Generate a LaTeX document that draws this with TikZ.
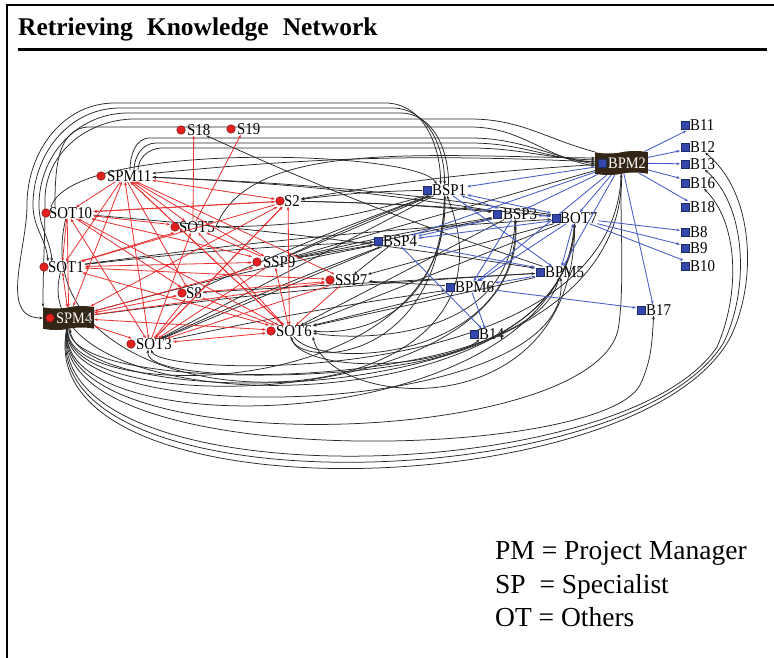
\documentclass[tikz,border=0pt]{standalone}
\usepackage{fontspec}
\usepackage{graphicx}
\setmainfont{Liberation Serif}
\usetikzlibrary{arrows.meta,shapes.symbols}
\definecolor{rline}{RGB}{232,48,48}
\definecolor{bline}{RGB}{70,92,200}
\definecolor{kline}{RGB}{40,40,40}
\definecolor{rdotc}{RGB}{226,32,32}
\definecolor{bsqc}{RGB}{52,72,172}
\definecolor{tapebrown}{RGB}{52,38,22}
\newcommand\nm[1]{\scalebox{0.9}[1]{#1}}

\begin{document}
\begin{tikzpicture}[x=1pt,y=-1pt,
  >={Stealth[length=3.6pt,width=2.8pt]},
  lbl/.style={inner xsep=1pt, inner ysep=0pt, font=\fontsize{16.5}{16.5}\selectfont, text height=11pt, text depth=0pt, anchor=west},
  hub/.style={tape, tape bend top=in and out, tape bend bottom=in and out, tape bend height=2.5pt,
    fill=tapebrown, text=white, inner xsep=2pt, inner ysep=4pt,
    font=\fontsize{16}{16}\selectfont, text height=11pt, text depth=0pt, anchor=west},
  rdotm/.style={circle, fill=rdotc, draw=rdotc!55!black, line width=0.5pt, inner sep=0pt, minimum size=8.5pt},
  bsqm/.style={rectangle, fill=bsqc, draw=bsqc!60!black, line width=0.4pt, inner sep=0pt, minimum size=8.5pt},
  redge/.style={draw=rline, line width=0.8pt},
  bedge/.style={draw=bline, line width=0.85pt},
  kedge/.style={draw=kline, line width=0.75pt},
  legend/.style={anchor=base west, inner sep=0pt, font=\fontsize{27.5}{27.5}\selectfont}
]
\useasboundingbox (0,0) rectangle (774,658);
\fill[white] (0,0) rectangle (774,658);

% frame and heading
\draw[line width=2.6pt] (7,658) -- (7,5) -- (774,5);
\node[anchor=base west, inner sep=0pt, font=\fontsize{25.5}{25.5}\bfseries\selectfont] (title) at (18,36)
  {Retrieving\hspace{14pt}Knowledge\hspace{14pt}Network};
\draw[line width=3pt] (18,50) -- (767,50);

% ---- red actors (S = specialists, OT = others, PM = project managers)
\node[lbl] (S18)   at (176,130) {\hspace{10pt}\nm{S18}};
\node[lbl] (S19)   at (226,129) {\hspace{10pt}\nm{S19}};
\node[lbl] (SPM11) at (96,176)  {\hspace{10pt}\nm{SPM11}};
\node[lbl] (SOT10) at (41,213)  {\hspace{7pt}\nm{SOT10}};
\node[lbl] (SOT5)  at (170,227) {\hspace{8pt}\nm{SOT5}};
\node[lbl] (S2)    at (275,201) {\hspace{8pt}\nm{S2}};
\node[lbl] (SOT1)  at (39,267)  {\hspace{8pt}\nm{SOT1}};
\node[lbl] (SSP9)  at (252,262) {\hspace{10pt}\nm{SSP9}};
\node[lbl] (S8)    at (177,293) {\hspace{8pt}\nm{S8}};
\node[lbl] (SSP7)  at (325,280) {\hspace{9pt}\nm{SSP7}};
\node[lbl] (SOT3)  at (126,344) {\hspace{9pt}\nm{SOT3}};
\node[lbl] (SOT6)  at (266,331) {\hspace{9pt}\nm{SOT6}};
\node[hub] (SPM4)  at (43,318)  {\hspace{11pt}\nm{SPM4}};

% ---- blue actors
\node[hub] (BPM2)  at (595,163) {\hspace{11pt}\nm{BPM2}};
\node[lbl] (B11)   at (680,125) {\hspace{9pt}\nm{B11}};
\node[lbl] (B12)   at (680,147) {\hspace{9pt}\nm{B12}};
\node[lbl] (B13)   at (680,164) {\hspace{9pt}\nm{B13}};
\node[lbl] (B16)   at (680,183) {\hspace{9pt}\nm{B16}};
\node[lbl] (B18)   at (680,207) {\hspace{9pt}\nm{B18}};
\node[lbl] (B8)    at (680,232) {\hspace{9pt}\nm{B8}};
\node[lbl] (B9)    at (680,248) {\hspace{9pt}\nm{B9}};
\node[lbl] (B10)   at (680,266) {\hspace{9pt}\nm{B10}};
\node[lbl] (BSP1)  at (422,190) {\hspace{9pt}\nm{BSP1}};
\node[lbl] (BSP3)  at (492,214) {\hspace{10pt}\nm{BSP3}};
\node[lbl] (BOT7)  at (551,218) {\hspace{8pt}\nm{BOT7}};
\node[lbl] (BSP4)  at (373,241) {\hspace{9pt}\nm{BSP4}};
\node[lbl] (BPM5)  at (535,272) {\hspace{9pt}\nm{BPM5}};
\node[lbl] (BPM6)  at (445,287) {\hspace{9pt}\nm{BPM6}};
\node[lbl] (B17)   at (636,310) {\hspace{9pt}\nm{B17}};
\node[lbl] (B14)   at (469,334) {\hspace{9pt}\nm{B14}};

% ---- black ties between the two groups: arcs over the top
\draw[kedge,<->] ([xshift=-4pt]BSP1.north) to[out=90,in=0] (385,103) -- (115,103)
  to[out=180,in=90] (27,205) to[out=270,in=180] (SPM4.west);
\draw[kedge,<->] ([xshift=0pt]BSP1.north) to[out=90,in=0] (392,108) -- (120,108)
  to[out=180,in=90] (33,205) to[out=270,in=95] ([xshift=9pt]SOT1.north west);
\draw[kedge,->]  ([xshift=4pt]BSP1.north) to[out=90,in=0] (400,113) -- (128,113)
  to[out=180,in=90] (39,205) to[out=270,in=95] ([xshift=13pt]SOT1.north west);
\draw[kedge,->]  (BPM2.north west) to[out=165,in=0] (470,119) -- (135,119)
  to[out=180,in=90] (45,200) to[out=270,in=90] (SPM4.north west);
\draw[kedge,<-]  ([yshift=-3pt]BPM2.west) to[out=170,in=0] (470,127) -- (90,127)
  to[out=180,in=90] ([xshift=14pt]SOT10.north west);
\draw[kedge,<-]  ([yshift=-1pt]BPM2.west) to[out=170,in=0] (470,138) -- (150,138)
  to[out=180,in=90] ([xshift=34pt]SPM11.north west);
\draw[kedge,<-]  ([yshift=1pt]BPM2.west) to[out=175,in=0] (470,143) -- (156,143)
  to[out=180,in=90] ([xshift=38pt]SPM11.north west);
\draw[kedge,<-]  ([yshift=3pt]BPM2.west) to[out=178,in=0] (470,148) -- (162,148)
  to[out=180,in=90] ([xshift=42pt]SPM11.north west);
\draw[kedge,<-]  ([yshift=5pt]BPM2.west) .. controls (420,156) and (250,140) .. (SOT5.east);
\draw[kedge,<-]  ([xshift=-8pt]BSP1.north) .. controls (420,150) and (70,140) .. ([xshift=10pt]SOT10.north west);

% ---- black ties: direct ones
\draw[kedge,->] (BPM2) to[bend right=4] (SPM11);
\draw[kedge,->] (BSP3) to[bend right=3] (SPM11);
\draw[kedge,->] (BOT7) to[bend right=3] (SPM11);
\draw[kedge,->] (BPM5) to[bend left=3]  (S18);
\draw[kedge,->] (BSP1) to[bend right=3] (S2);
\draw[kedge,->] (BPM2) to[bend right=3] (S2);
\draw[kedge,->] (BSP1) to[bend left=8]  (SOT5);
\foreach \a/\b in {BSP4/SSP9, BSP1/SSP9, BSP3/SSP9, BPM2/SSP9, BSP4/SSP7, BPM6/SSP7,
                   BPM5/S8, BPM6/SOT6, BPM5/SOT6, BOT7/SOT6, BSP3/SOT6, BSP4/SOT3,
                   BSP1/SOT3, BOT7/SSP7}
  \draw[kedge,->] (\a) -- (\b);
\foreach \a/\b in {SOT1/BSP4, SPM4/BSP4, SOT3/BSP4, SSP9/BSP1, S8/BSP1, SPM4/BPM5,
                   SOT10/BPM5, SOT1/BOT7, S2/BSP3, S2/BOT7, SOT3/BPM6, SSP9/BSP3}
  \draw[kedge,->] (\a) to[bend left=2] (\b);

% ---- black ties: short loops under the middle
\draw[kedge,->] (BSP1) .. controls (442,330) and (340,334) .. (SOT6.east);
\draw[kedge,->] (BSP3) .. controls (512,345) and (350,340) .. ([yshift=-2pt]SOT6.east);
\draw[kedge,->] (BOT7) .. controls (575,430) and (330,410) .. (SOT6.south east);

% ---- black ties: loops round the bottom
\draw[kedge,->] (SPM4) .. controls (30,522) and (640,505) .. (730,338)
  .. controls (758,282) and (754,192) .. (B12);
\draw[kedge,->] (SPM4) .. controls (36,512) and (632,497) .. (724,342)
  .. controls (750,287) and (746,205) .. (B13);
\draw[kedge,->] (SPM4) .. controls (42,502) and (622,489) .. (717,347)
  .. controls (741,292) and (738,222) .. (B16);
\draw[kedge,->] (SPM4) .. controls (46,474) and (600,462) .. (640,385)
  .. controls (652,360) and (652,340) .. (B17);
\draw[kedge,->] (SPM4) .. controls (50,462) and (590,450) .. (618,330)
  .. controls (625,290) and (620,220) .. (BPM2);
\draw[kedge,->] (SPM4) .. controls (52,448) and (560,440) .. (BOT7);
\draw[kedge,->] (SPM4) .. controls (56,432) and (575,420) .. (BPM5);
\draw[kedge,->] (SPM4) .. controls (60,420) and (530,415) .. (BSP3);
\draw[kedge,->] (SPM4) .. controls (62,405) and (452,405) .. (BSP1);
\draw[kedge,->] (SPM4) .. controls (70,392) and (420,385) .. (B14);
\draw[kedge,->] (SOT1) .. controls (18,430) and (570,430) .. (BOT7);
\draw[kedge,<->] (SOT3) .. controls (140,392) and (535,385) .. (BPM5);
\draw[kedge,->] (SOT6) .. controls (300,385) and (565,380) .. (BOT7);
\draw[kedge,->] (SOT6) .. controls (320,372) and (520,360) .. (BSP3);
\draw[kedge,<-] (SOT6) .. controls (300,368) and (442,365) .. (BSP1);
\draw[kedge,<-] (SOT3) .. controls (160,378) and (615,390) .. (BPM2);
\draw[kedge,<-] (SPM4) .. controls (80,415) and (625,420) .. (BPM2);
\draw[kedge,->] (SOT10) .. controls (12,440) and (545,440) .. (BSP1);

% ---- red ties inside the red group
\foreach \a/\b in {SPM11/S2, SPM11/SOT5, SOT10/S2, SOT10/SOT5, SPM11/SOT3, SPM11/SPM4,
                   SOT10/SOT6, SOT10/SSP9, SPM11/SSP9, SPM11/SOT6, S2/SPM4, S2/SOT3,
                   SOT1/SSP9, SOT1/SSP7, SOT1/SOT6, SPM4/SOT3, SPM4/SOT6, SOT3/SOT6,
                   SOT3/SSP9, SOT3/S8, S8/SPM4, SSP7/SPM4, SSP9/SPM4, SOT5/SOT1,
                   SOT5/SOT6, SOT10/SOT1, SOT1/SPM4, SOT10/SOT3, SPM11/SSP7, S2/SOT6}
  \draw[redge,<->] (\a) -- (\b);
\foreach \a/\b in {SOT5/S18, SOT5/S19, SOT6/SPM11, SOT3/SOT5, SOT3/S2, SOT6/SSP9,
                   SSP7/SOT3, SSP7/SOT6, S8/SOT6, SOT10/S8, SPM11/S8, SPM11/SOT1,
                   SOT10/SPM4, SPM11/SOT10, S2/SOT1, S2/SOT10, SSP9/SOT5, S8/SSP7}
  \draw[redge,->] (\a) -- (\b);

% ---- blue ties inside the blue group
\foreach \a/\b in {BPM2/B11, BPM2/B12, BPM2/B13, BPM2/B16, BPM2/B18, BOT7/B8, BOT7/B9,
                   BOT7/B10, BPM2/B17, BPM6/B17, BPM6/B14, BSP4/B14, BPM5/BPM6,
                   BPM2/BSP1, BPM2/BSP3, BPM2/BSP4, BPM2/BPM5, BPM2/BPM6, BPM2/BOT7,
                   BOT7/BSP4, BSP3/BPM6, BSP1/BPM5, BOT7/BPM6, BSP4/BPM5, BSP3/BSP4}
  \draw[bedge,->] (\a) -- (\b);
\foreach \a/\b in {BSP1/BSP3, BSP3/BOT7, BOT7/BPM5, BSP1/BOT7}
  \draw[bedge,<->] (\a) -- (\b);

% ---- markers on top of the ties
\foreach \n in {S18,S19,SPM11,SOT10,SOT5,S2,SOT1,SSP9,S8,SSP7,SOT3,SOT6}
  \node[rdotm] at ([xshift=5pt]\n.west) {};
\node[rdotm] at ([xshift=7pt]SPM4.west) {};
\foreach \n in {B11,B12,B13,B16,B18,B8,B9,B10,BSP1,BSP3,BOT7,BSP4,BPM5,BPM6,B17,B14}
  \node[bsqm] at ([xshift=5pt]\n.west) {};
\node[bsqm] at ([xshift=7pt]BPM2.west) {};

% ---- key
\node[legend] (keyPM) at (495,559) {PM = Project Manager};
\node[legend] (keySP) at (495,593) {SP\ \ = Specialist};
\node[legend] (keyOT) at (495,626) {OT = Others};
\end{tikzpicture}
\end{document}
